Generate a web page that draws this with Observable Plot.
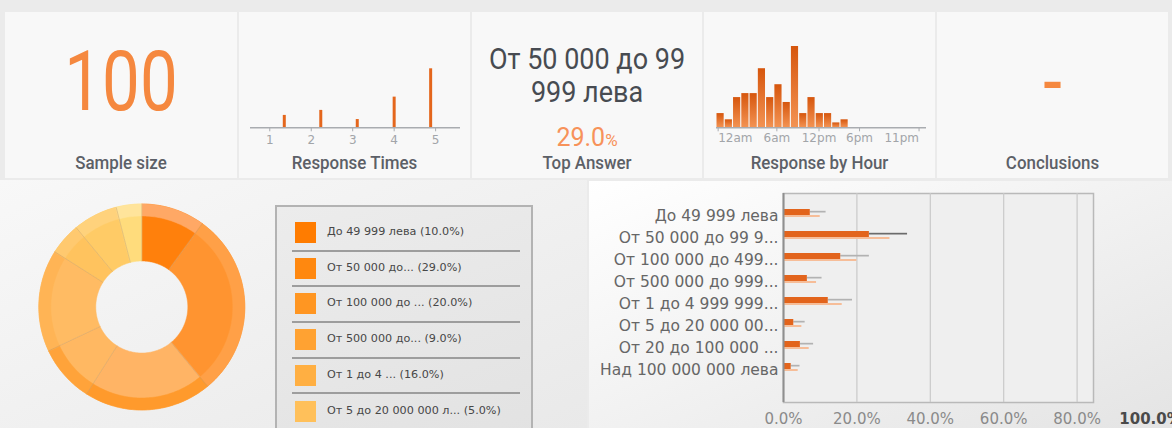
<!DOCTYPE html>
<html><head><meta charset="utf-8">
<script src="https://cdn.jsdelivr.net/npm/d3@7"></script>
<script src="https://cdn.jsdelivr.net/npm/@observablehq/plot@0.6"></script>
<style>
html,body{margin:0;padding:0;background:#ebebeb;width:1172px;height:428px;overflow:hidden;}
#root{position:relative;width:1172px;height:428px;}
.layer{position:absolute;display:block;}
#legend{position:absolute;left:275px;top:205px;width:258px;height:240px;border:2px solid #b3b3b3;
  background:linear-gradient(160deg,#ececec,#e2e2e2);box-sizing:border-box;}
.lrow{position:absolute;left:0;width:100%;height:36px;}
.sw{position:absolute;left:18px;width:21px;height:21px;}
.lt{position:absolute;left:50px;font-family:"DejaVu Sans";font-size:11.2px;color:#474747;white-space:nowrap;}
.sep{position:absolute;left:15px;width:228px;height:2px;background:#9d9d9d;}
</style></head><body><div id="root"></div>
<script>
// ---------- data ----------
const sampleSize = 100;
const tileTitles = ["Sample size", "Response Times", "Top Answer", "Response by Hour", "Conclusions"];
const topAnswerLines = ["От 50 000 до 99", "999 лева"];
const topAnswerPct = 29.0;
const conclusionsText = "-";

const rtPos = [1.35, 2.23, 3.11, 4.0, 4.88];
const rtCount = [4.2, 5.9, 2.8, 10.4, 20];
const rtTicks = [1, 2, 3, 4, 5];

const hourIdx = [0, 1, 2, 3, 4, 5, 6, 7, 8, 9, 10, 11, 12, 13, 14, 15];
const hourCount = [3.2, 1.8, 6.8, 7.7, 7.7, 13.3, 6.8, 9.7, 5.7, 18.3, 3.2, 6.8, 3.2, 3.2, 1.1, 1.8];
const hourTickPos = [0.2, 7.3, 12.4, 17.3, 24.5];
const hourTickLabels = ["12am", "6am", "12pm", "6pm", "11pm"];

const categories = ["До 49 999 лева", "От 50 000 до 99 9...", "От 100 000 до 499...", "От 500 000 до 999...",
  "От 1 до 4 999 999...", "От 5 до 20 000 00...", "От 20 до 100 000 ...", "Над 100 000 000 лева"];
const shares = [10, 29, 20, 9, 16, 5, 7, 4];
const ciLow = [7.3, 23.4, 15.6, 6.5, 12.2, 2.8, 4.6, 2.1];
const ciHigh = [11.6, 33.8, 23.4, 10.5, 18.8, 5.9, 8.2, 4.5];
const legendLabels = ["До 49 999 лева", "От 50 000 до...", "От 100 000 до ...", "От 500 000 до...",
  "От 1 до 4 ...", "От 5 до 20 000 000 л..."];
const pctTicks = [0, 20, 40, 60, 80, 100];

// ---------- palette ----------
const orange = "#f5883f";
const sliceColors = ["#ff800c", "#ff9430", "#ffb465", "#ffb862", "#ffbb63", "#ffc35e", "#ffcb66", "#ffdc7c"];
const rimColors = ["#ffa865", "#ffa047", "#ff9a2c", "#ffa33a", "#ffb455", "#ffc96f", "#ffd27c", "#ffe49b"];
const legendColors = ["#ff7c00", "#ff880f", "#ff9622", "#ffa232", "#ffaf42", "#ffc05a"];

const root = d3.select("#root");
const W = 1172, H = 428;

// ---------- background, tiles, static text ----------
const bg = root.append("svg").attr("class", "layer").attr("width", W).attr("height", H)
  .style("left", "0px").style("top", "0px");
const defs = bg.append("defs");
const gl = defs.append("linearGradient").attr("id", "gl").attr("x1", 0).attr("y1", 0).attr("x2", 1).attr("y2", 1);
gl.append("stop").attr("offset", 0).attr("stop-color", "#f8f8f8");
gl.append("stop").attr("offset", 1).attr("stop-color", "#e9e9e9");
const gr = defs.append("linearGradient").attr("id", "gr").attr("x1", 0).attr("y1", 0).attr("x2", 1).attr("y2", 1);
gr.append("stop").attr("offset", 0).attr("stop-color", "#ffffff");
gr.append("stop").attr("offset", 1).attr("stop-color", "#e4e4e4");

bg.append("rect").attr("width", W).attr("height", H).attr("fill", "#ebebeb");
const tileX = [5, 239, 472, 704, 937], tileW = [232, 231, 230, 231, 231];
tileX.forEach((x, i) => bg.append("rect").attr("x", x).attr("y", 12).attr("width", tileW[i]).attr("height", 166).attr("fill", "#f8f8f8"));
bg.append("rect").attr("x", 0).attr("y", 180).attr("width", 587).attr("height", 248).attr("fill", "url(#gl)");
bg.append("rect").attr("x", 589).attr("y", 181).attr("width", 583).attr("height", 247).attr("fill", "url(#gr)");

const cx = tileX.map((x, i) => x + tileW[i] / 2);
tileTitles.forEach((t, i) => bg.append("text").attr("transform", `translate(${cx[i]},169) scale(0.94,1)`)
  .attr("text-anchor", "middle").attr("font-family", "Roboto").attr("font-size", 18).attr("font-weight", 500)
  .attr("fill", "#5c6067").text(t));

bg.append("text").attr("transform", `translate(${cx[0]},110) scale(0.8,1)`).attr("text-anchor", "middle")
  .attr("font-family", "Roboto").attr("font-size", 84).attr("fill", orange).text(String(sampleSize));

topAnswerLines.forEach((t, i) => bg.append("text").attr("transform", `translate(${cx[2]},${69 + i * 33}) scale(0.9,1)`)
  .attr("text-anchor", "middle").attr("font-family", "Roboto").attr("font-size", 30)
  .attr("fill", "#474b51").text(t));
const pctT = bg.append("text").attr("x", cx[2]).attr("y", 146).attr("text-anchor", "middle")
  .attr("font-family", "Roboto").attr("fill", "#f7925a");
pctT.append("tspan").attr("font-size", 25).text(topAnswerPct.toFixed(1));
pctT.append("tspan").attr("font-size", 17).text("%");

bg.append("text").attr("transform", `translate(${cx[4]},110) scale(0.8,1)`).attr("text-anchor", "middle")
  .attr("font-family", "Roboto").attr("font-size", 84).attr("fill", orange).text(conclusionsText);

function place(svg, left, top) {
  const n = root.node().appendChild(svg);
  n.classList.add("layer");
  n.style.left = left + "px"; n.style.top = top + "px";
  return n;
}
function addBarGradient(svg, id, c0, c1) {
  const s = d3.select(svg);
  const g = s.insert("defs", ":first-child").append("linearGradient").attr("id", id)
    .attr("x1", 0).attr("y1", 0).attr("x2", 0).attr("y2", 1);
  g.append("stop").attr("offset", 0).attr("stop-color", c0);
  g.append("stop").attr("offset", 1).attr("stop-color", c1);
}

// ---------- Response Times ----------
const rtData = rtPos.map((p, i) => ({p, c: rtCount[i]}));
const rt = Plot.plot({
  width: 231, height: 140,
  marginLeft: 11, marginRight: 10, marginTop: 0, marginBottom: 24.7,
  x: {domain: [0.535, 5.6], label: null},
  y: {domain: [0, d3.max(rtCount)], range: [115.3, 56.3], axis: null},
  style: {background: "transparent", fontFamily: "DejaVu Sans", overflow: "visible"},
  marks: [
    Plot.ruleX(rtData, {x: "p", y1: 0, y2: "c", stroke: "#e4661c", strokeWidth: 3}),
    Plot.ruleY([0], {stroke: "#a9acb0", strokeWidth: 1.5}),
    Plot.axisX({ticks: rtTicks, tickSize: 4, tickPadding: 4, fontSize: 12, fill: "#a2a5a9", stroke: "#a9acb0", tickFormat: d => d, label: null})
  ]
});
place(rt, 239, 12);

// ---------- Response by Hour ----------
const hrData = hourIdx.map((h, i) => ({h, c: hourCount[i]}));
const hrLabels = hourTickLabels.map((t, i) => ({t, x: hourTickPos[i]}));
const last = hrLabels.length - 1;
const hr = Plot.plot({
  width: 231, height: 140,
  marginLeft: 12, marginRight: 9, marginTop: 0, marginBottom: 24.7,
  x: {domain: [0, 25.4], label: null},
  y: {domain: [0, d3.max(hourCount)], range: [115.3, 34], axis: null},
  style: {background: "transparent", fontFamily: "DejaVu Sans", overflow: "visible"},
  marks: [
    Plot.rectY(hrData, {x1: "h", x2: d => d.h + 1, y: "c", fill: "url(#hrg)", insetLeft: 0.5, insetRight: 0.6}),
    Plot.ruleY([0], {stroke: "#a9acb0", strokeWidth: 1.5}),
    Plot.axisX({ticks: hourTickPos, tickSize: 4, tickFormat: () => "", stroke: "#a9acb0", label: null}),
    Plot.text(hrLabels.slice(0, 1), {x: "x", text: "t", frameAnchor: "bottom", dy: 14.5, textAnchor: "start", fontSize: 12, fill: "#a2a5a9"}),
    Plot.text(hrLabels.slice(1, last), {x: "x", text: "t", frameAnchor: "bottom", dy: 14.5, textAnchor: "middle", fontSize: 12, fill: "#a2a5a9"}),
    Plot.text(hrLabels.slice(last), {x: "x", text: "t", frameAnchor: "bottom", dy: 14.5, textAnchor: "end", fontSize: 12, fill: "#a2a5a9"})
  ]
});
addBarGradient(hr, "hrg", "#d6560d", "#f39353");
place(hr, 704, 12);

// ---------- Donut ----------
const pie = d3.pie().sort(null).value(d => d)(shares);
function ring(r0, r1) {
  const pts = [];
  pie.forEach((p, i) => {
    const n = Math.max(2, Math.ceil((p.endAngle - p.startAngle) / 0.02));
    for (let k = 0; k <= n; k++) {
      const a = p.startAngle + (p.endAngle - p.startAngle) * k / n;
      pts.push({i, x: r1 * Math.sin(a), y: -r1 * Math.cos(a)});
    }
    for (let k = n; k >= 0; k--) {
      const a = p.startAngle + (p.endAngle - p.startAngle) * k / n;
      pts.push({i, x: r0 * Math.sin(a), y: -r0 * Math.cos(a)});
    }
  });
  return pts;
}
const bounds = pie.map(p => p.startAngle);
const donut = Plot.plot({
  width: 280, height: 248, margin: 0,
  x: {domain: [-141.3, 138.7], range: [0, 280], axis: null},
  y: {domain: [-126.5, 121.5], range: [0, 248], axis: null},
  color: {type: "identity"},
  style: {background: "transparent"},
  marks: [
    Plot.line(ring(46, 103), {x: "x", y: "y", z: "i", fill: d => sliceColors[d.i], stroke: d => sliceColors[d.i], strokeWidth: 0.5, curve: "linear-closed"}),
    Plot.line(ring(91, 103), {x: "x", y: "y", z: "i", fill: d => rimColors[d.i], stroke: d => rimColors[d.i], strokeWidth: 0.5, curve: "linear-closed"}),
    Plot.link(bounds, {x1: a => 46 * Math.sin(a), y1: a => -46 * Math.cos(a), x2: a => 103 * Math.sin(a), y2: a => -103 * Math.cos(a), stroke: "#b8946a", strokeOpacity: 0.45, strokeWidth: 0.8})
  ]
});
place(donut, 0, 180);

// ---------- Legend ----------
const legend = root.append("div").attr("id", "legend");
legendLabels.forEach((l, i) => {
  const row = legend.append("div").attr("class", "lrow").style("top", (8 + i * 35.7) + "px");
  row.append("div").attr("class", "sw").style("top", "7px").style("background", legendColors[i]);
  row.append("div").attr("class", "lt").style("top", "10px").text(`${l} (${shares[i].toFixed(1)}%)`);
  if (i < legendLabels.length - 1) legend.append("div").attr("class", "sep").style("top", (42.5 + i * 35.7) + "px");
});

// ---------- Bar chart ----------
const barData = categories.map((c, i) => ({c, v: shares[i], lo: ciLow[i], hi: ciHigh[i]}));
const topCat = categories[shares.indexOf(d3.max(shares))];
const bars = Plot.plot({
  width: 582, height: 248,
  marginLeft: 193, marginRight: 79, marginTop: 13, marginBottom: 26,
  x: {domain: [0, 100], range: [193, 560], label: null},
  y: {type: "band", domain: categories, range: [21, 197], padding: 0, label: null},
  style: {background: "transparent", fontFamily: "DejaVu Sans", overflow: "visible"},
  marks: [
    Plot.frame({fill: "#efefef", stroke: "#b9b9b9", strokeWidth: 1.5}),
    Plot.ruleX([20, 40, 60, 80], {stroke: "#c9c9c9", strokeWidth: 1.2}),
    Plot.barX(barData, {y: "c", x: "v", fill: "#f6bd98", insetTop: 14, insetBottom: 6}),
    Plot.barX(barData, {y: "c", x1: "lo", x2: "hi", fill: d => d.c === topCat ? "#6b6b6b" : "#b2b2b2", insetTop: 9.8, insetBottom: 10.5}),
    Plot.barX(barData, {y: "c", x: "lo", fill: "#e2641c", insetTop: 8, insetBottom: 8}),
    Plot.ruleX([0], {stroke: "#8f8f8f", strokeWidth: 2}),
    Plot.axisY({tickSize: 0, tickPadding: 5, fontSize: 15.5, fill: "#666", dy: 4, label: null}),
    Plot.axisX(pctTicks.slice(0, -1), {tickSize: 0, tickPadding: 11, fontSize: 15, fill: "#8a8a8a", tickFormat: d => d.toFixed(1) + "%", label: null}),
    Plot.axisX(pctTicks.slice(-1), {tickSize: 0, tickPadding: 11, fontSize: 15, fill: "#4a4a4a", fontWeight: 600, tickFormat: d => d.toFixed(1) + "%", label: null})
  ]
});
place(bars, 590, 180);
</script></body></html>
